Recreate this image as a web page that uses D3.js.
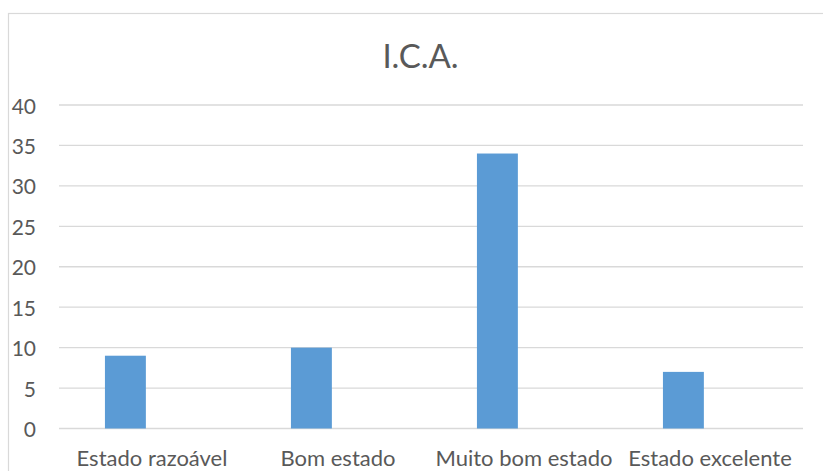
<!DOCTYPE html>
<html>
<head>
<meta charset="utf-8">
<script src="https://cdn.jsdelivr.net/npm/d3@7"></script>
<style>
  html, body { margin: 0; padding: 0; background: #fff; }
  svg { display: block; }
  text { font-family: Lato, "Open Sans", sans-serif; fill: #595959; }
</style>
</head>
<body>
<script>
const categories = ["Estado razoável", "Bom estado", "Muito bom estado", "Estado excelente"];
const values = [9, 10, 34, 7];
const yTicks = [0, 5, 10, 15, 20, 25, 30, 35, 40];
const title = "I.C.A.";

const W = 823, H = 471;
const svg = d3.select("body").append("svg").attr("width", W).attr("height", H);

// chart border (extends past the right / bottom of the frame)
svg.append("rect")
  .attr("x", 8.5).attr("y", 13.5)
  .attr("width", W + 20).attr("height", H + 20)
  .attr("fill", "#fff").attr("stroke", "#d9d9d9").attr("stroke-width", 1.2);

const plot = { left: 59, right: 803, top: 105, bottom: 428.5 };

const x = d3.scaleBand().domain(categories).range([plot.left, plot.right]).padding(0);
const y = d3.scaleLinear().domain([0, 40]).range([plot.bottom, plot.top]);

// gridlines
svg.append("g").selectAll("line").data(yTicks).join("line")
  .attr("x1", plot.left).attr("x2", plot.right)
  .attr("y1", d => y(d)).attr("y2", d => y(d))
  .attr("stroke", "#d9d9d9").attr("stroke-width", 1.3);

// y tick labels
svg.append("g").selectAll("text").data(yTicks).join("text")
  .attr("x", 36).attr("y", d => y(d))
  .attr("text-anchor", "end").attr("dominant-baseline", "central")
  .attr("font-size", 21)
  .text(d => d);

// bars
const bw = x.bandwidth();
svg.append("g").selectAll("rect").data(categories).join("rect")
  .attr("x", d => x(d) + bw * 0.247)
  .attr("width", bw * 0.22)
  .attr("y", (d, i) => y(values[i]))
  .attr("height", (d, i) => y(0) - y(values[i]))
  .attr("fill", "#5b9bd5");

// x labels
svg.append("g").selectAll("text").data(categories).join("text")
  .attr("x", d => x(d) + bw / 2).attr("y", 466)
  .attr("text-anchor", "middle")
  .attr("font-size", 22)
  .text(d => d);

// title
svg.append("text")
  .attr("x", 420.5).attr("y", 68)
  .attr("text-anchor", "middle")
  .attr("font-size", 33)
  .text(title);
</script>
</body>
</html>
